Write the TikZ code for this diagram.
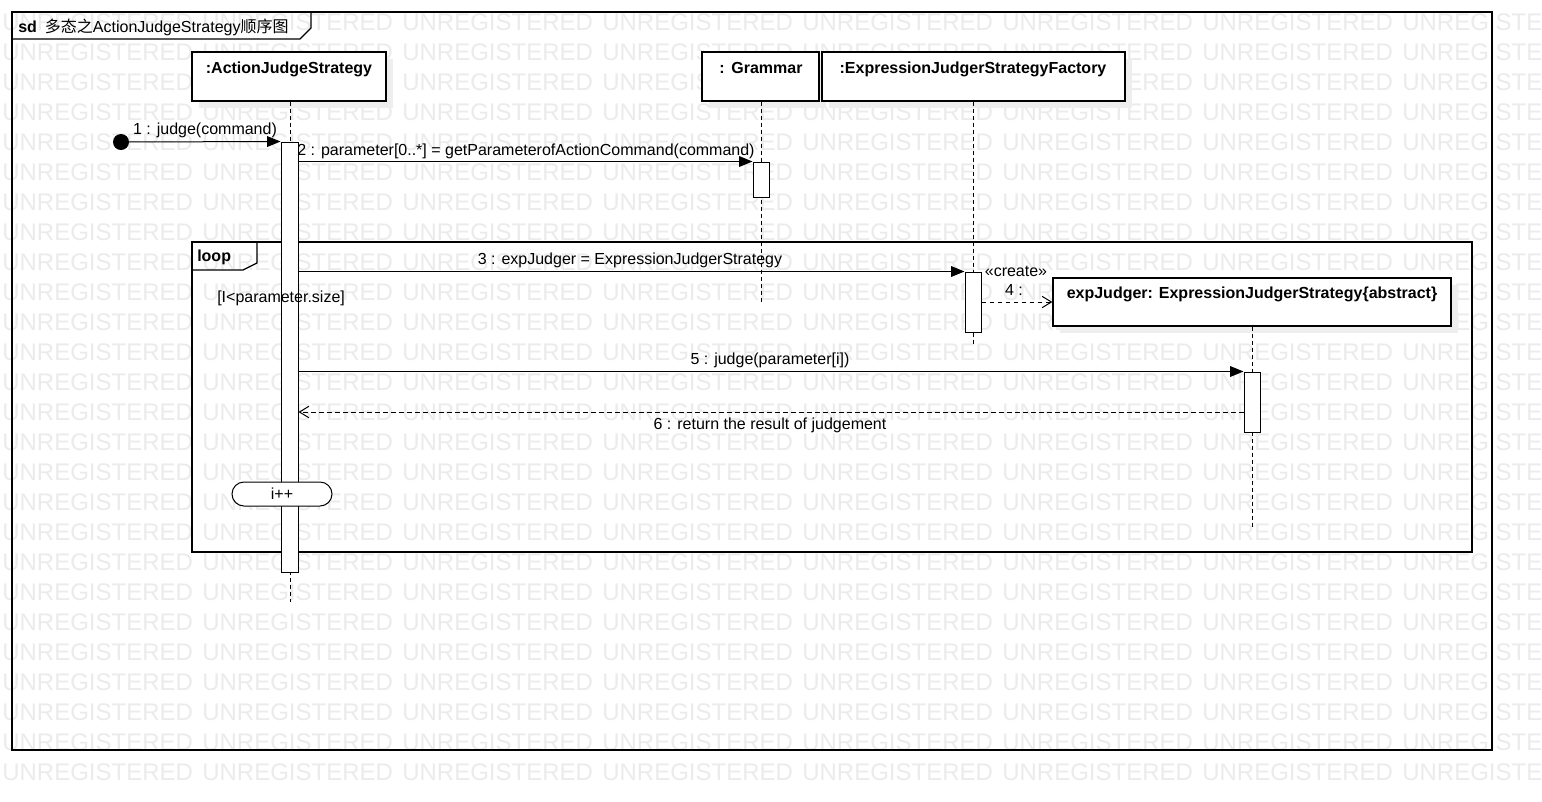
\documentclass[tikz,border=0pt]{standalone}
\usepackage{fontspec}
\setmainfont{Liberation Sans}
\newfontfamily\cjk{Noto Sans CJK SC}
\usetikzlibrary{arrows.meta,fit,shadows}
\definecolor{wmgray}{RGB}{235,235,235}
\definecolor{shadowgray}{RGB}{238,238,238}
\tikzset{
  wm/.style={anchor=west, inner sep=0pt, text=wmgray, font=\fontsize{18}{20}\selectfont},
  lifebox/.style={draw, line width=0.9pt, fill=white, inner sep=0pt,
    drop shadow={shadow xshift=5pt, shadow yshift=-5pt, fill=shadowgray, opacity=1}},
  actbar/.style={draw, line width=0.75pt, fill=white, inner sep=0pt},
  lbl/.style={inner sep=0pt, anchor=base},
  boxtitle/.style={inner sep=0pt, anchor=base, font=\fontsize{12}{14}\selectfont\bfseries},
  lifeline/.style={line width=0.75pt, dash pattern=on 3pt off 2.25pt},
  syncmsg/.style={line width=0.75pt, -{Triangle[length=10pt,width=8pt]}},
  retmsg/.style={line width=0.75pt, dash pattern=on 3.5pt off 2.5pt, -{Straight Barb[length=7pt,width=8.5pt]}},
  frameline/.style={line width=0.9pt},
  framebox/.style={draw, line width=0.9pt, inner sep=0pt},
}
\begin{document}
\begin{tikzpicture}[x=0.75pt,y=-0.75pt, font=\fontsize{12}{14}\selectfont]
\useasboundingbox (0,0) rectangle (1542,801);
\fill[white] (0,0) rectangle (1542,801);
% watermark
\begin{scope}
\clip (0,0) rectangle (1542,801);
\foreach \r in {0,...,25}{
  \foreach \c in {0,...,7}{
    \node[wm] (wm-\r-\c) at ({2+200*\c},{22+30*\r}) {UNREGISTERED};
  }
}
\end{scope}
% outer frame
\node[framebox, fit={(12,12) (1492,750)}] (frame) {};
\draw[frameline] (12,39) -- (300,39) -- (311,28) -- (311,12);
\node[lbl, anchor=base west] (title) at (18,32) {\textbf{sd}\hspace{6pt}{\cjk 多态之}ActionJudgeStrategy{\cjk 顺序图}};
% loop frame
\node[framebox, fit={(192,242) (1472,552)}] (loopf) {};
\draw[frameline] (192,270) -- (243,270) -- (257,263) -- (257,242);
\node[lbl, anchor=base west, font=\fontsize{12}{14}\selectfont\bfseries] (looplbl) at (197,261) {loop};
% lifeline heads
\node[lifebox, fit={(192,52) (386,101)}] (ajs) {};
\node[lifebox, fit={(702,52) (819,101)}] (gr) {};
\node[lifebox, fit={(822,52) (1125,101)}] (fac) {};
\node[lifebox, fit={(1053,278) (1451,326)}] (ej) {};
\node[boxtitle] (ajsT) at (289,73) {:ActionJudgeStrategy};
\node[boxtitle] (grT) at (761,73) {:\hspace{5pt}Grammar};
\node[boxtitle] (facT) at (973,73) {:ExpressionJudgerStrategyFactory};
\node[boxtitle] (ejT) at (1252,298) {expJudger: ExpressionJudgerStrategy\{abstract\}};
% lifelines
\coordinate (ajsEnd) at (290,602);
\coordinate (grEnd) at (761,302);
\coordinate (facEnd) at (973.5,346);
\coordinate (ejEnd) at (1252,527);
\draw[lifeline] (ajs.south -| ajsEnd) -- (ajsEnd);
\draw[lifeline] (gr.south -| grEnd) -- (grEnd);
\draw[lifeline] (fac.south) -- (facEnd);
\draw[lifeline] (ej.south) -- (ejEnd);
% activation bars
\node[actbar, fit={(281,142) (298,572)}] (act1) {};
\node[actbar, fit={(753,162) (769,197)}] (act2) {};
\node[actbar, fit={(965,272) (981,332)}] (act3) {};
\node[actbar, fit={(1244,372) (1260,432)}] (act5) {};
% loop guard (drawn over the activation bar)
\node[lbl, anchor=base west] (guard) at (217,302) {[I<parameter.size]};
% found message
\node[circle, fill=black, minimum size=12pt, inner sep=0pt] (found) at (121,142) {};
\draw[syncmsg] (found.center) -- (act1.north west);
\node[lbl] (m1) at (205,134) {1 : judge(command)};
% message 2
\draw[syncmsg] (act1.east |- act2.north) -- (act2.north west);
\node[lbl] (m2) at (526,155) {2 : parameter[0..*] = getParameterofActionCommand(command)};
% message 3
\draw[syncmsg] (act1.east |- act3.north) -- (act3.north west);
\node[lbl] (m3) at (630,264) {3 : expJudger = ExpressionJudgerStrategy};
% message 4 (create)
\draw[retmsg] (act3.east |- ej.west) -- (ej.west);
\node[lbl] (m4s) at (1016,276) {«create»};
\node[lbl] (m4) at (1014,295) {4 :};
% message 5
\draw[syncmsg] (act1.east |- act5.north) -- (act5.north west);
\node[lbl] (m5) at (770,364) {5 : judge(parameter[i])};
% message 6 (return)
\coordinate (r6) at (1244,412);
\draw[retmsg] (r6) -- (act1.east |- r6);
\node[lbl] (m6) at (770,429) {6 : return the result of judgement};
% i++
\node[draw, fill=white, line width=0.75pt, rounded corners=9pt, minimum width=75pt, minimum height=18pt, inner sep=0pt] (inc) at (282,494) {i++};
\end{tikzpicture}
\end{document}
